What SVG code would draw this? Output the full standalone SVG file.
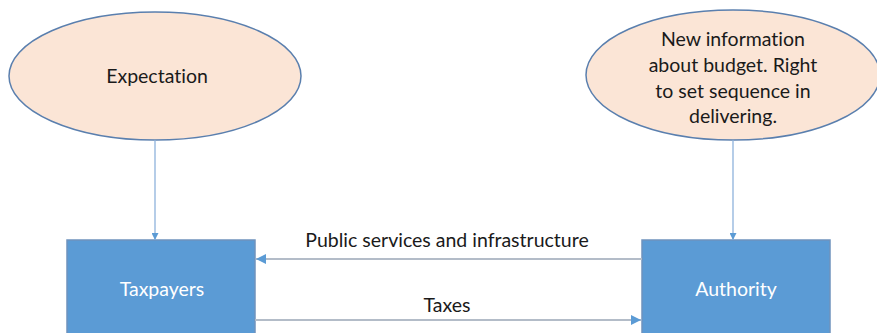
<svg xmlns="http://www.w3.org/2000/svg" width="877" height="333" viewBox="0 0 877 333">
<style>
.ell{fill:#fbe5d6;stroke:#5a7fae;stroke-width:1.5}
.box{fill:#5b9bd5;stroke:#6f93bd;stroke-width:1.5}
.t{font-family:Lato,"Open Sans",sans-serif;font-size:19.5px;fill:#1a1a1a;text-anchor:middle;font-variant-ligatures:none}
.w{font-family:Lato,"Open Sans",sans-serif;font-size:19.5px;fill:#ffffff;text-anchor:middle;font-variant-ligatures:none}
.v{stroke:#8eb2dc;stroke-width:1.3;fill:none}
.h{stroke:#b3bcc8;stroke-width:2;fill:none}
</style>
<defs>
<marker id="ah" viewBox="0 0 10 10" refX="10" refY="5" markerWidth="7" markerHeight="7" markerUnits="userSpaceOnUse" orient="auto">
<path d="M0,0 L10,5 L0,10 z" fill="#5b9bd5"/>
</marker>
<marker id="ah2" viewBox="0 0 10 10" refX="10" refY="5" markerWidth="5" markerHeight="5" markerUnits="strokeWidth" orient="auto">
<path d="M0,0 L10,5 L0,10 z" fill="#5b9bd5"/>
</marker>
</defs>
<rect width="877" height="333" fill="#ffffff"/>
<g id="expectation">
<ellipse class="ell" cx="155" cy="76" rx="146" ry="64"/>
<text class="t" x="157" y="83">Expectation</text>
</g>
<g id="newinfo">
<ellipse class="ell" cx="733" cy="75" rx="147" ry="65"/>
<text class="t" x="733" y="46">New information</text>
<text class="t" x="733" y="72">about budget. Right</text>
<text class="t" x="733" y="98">to set sequence in</text>
<text class="t" x="733" y="123">delivering.</text>
</g>
<g id="taxpayers">
<rect class="box" x="67" y="240" width="188" height="100"/>
<text class="w" x="162" y="296">Taxpayers</text>
</g>
<g id="authority">
<rect class="box" x="642" y="240" width="188" height="100"/>
<text class="w" x="736" y="296">Authority</text>
</g>
<g id="connectors">
<line class="v" x1="155" y1="140" x2="155" y2="240" marker-end="url(#ah)"/>
<line class="v" x1="733" y1="140" x2="733" y2="240" marker-end="url(#ah)"/>
<line class="h" x1="642" y1="259" x2="256" y2="259" marker-end="url(#ah2)"/>
<line class="h" x1="255" y1="320" x2="641" y2="320" marker-end="url(#ah2)"/>
<text class="t" x="447" y="247">Public services and infrastructure</text>
<text class="t" x="447" y="312">Taxes</text>
</g>
</svg>
